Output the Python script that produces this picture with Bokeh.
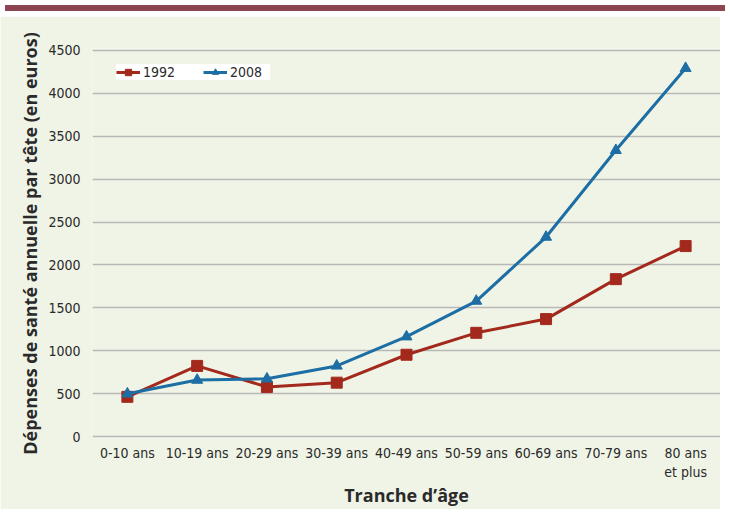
from bokeh.plotting import figure
from bokeh.models import Range1d, FixedTicker, Legend, LegendItem, Div
from bokeh.layouts import column
from bokeh.embed import file_html
from bokeh.resources import INLINE

# ---- data ----
ages = ["0-10 ans", "10-19 ans", "20-29 ans", "30-39 ans", "40-49 ans",
        "50-59 ans", "60-69 ans", "70-79 ans", "80 ans\net plus"]
y1992 = [465, 825, 580, 630, 955, 1210, 1370, 1835, 2220]
y2008 = [500, 660, 675, 825, 1165, 1580, 2325, 3335, 4290]
y_ticks = [0, 500, 1000, 1500, 2000, 2500, 3000, 3500, 4000, 4500]

# ---- styles ----
GREEN = "#eff4e6"
MAROON = "#8b4451"
RED = "#a3291d"
BLUE = "#1d6ea4"
TEXT = "#2a2a2a"
NARROW = "DejaVu Sans Condensed"
BOLD = "Open Sans"

bar = Div(text="", width=720, height=6, styles={"background-color": MAROON})

p = figure(x_range=ages, y_range=Range1d(-20, 4520),
           frame_width=628, frame_height=390,
           min_border_left=92, min_border_right=0, min_border_top=32, min_border_bottom=50,
           output_backend="svg", toolbar_location=None,
           background_fill_color=GREEN, border_fill_color=GREEN)
p.outline_line_color = None
p.xgrid.grid_line_color = None
p.ygrid.grid_line_color = "#b8b8b8"
p.ygrid.grid_line_width = 1.6
p.yaxis.ticker = FixedTicker(ticks=y_ticks)

for ax in (p.xaxis[0], p.yaxis[0]):
    ax.axis_line_color = None
    ax.major_tick_line_color = None
    ax.minor_tick_line_color = None
    ax.major_label_text_font = NARROW
    ax.major_label_text_font_size = "14px"
    ax.major_label_text_color = TEXT
    ax.axis_label_text_font = BOLD
    ax.axis_label_text_font_style = "bold"
    ax.axis_label_text_color = TEXT

p.yaxis.major_label_standoff = 6
p.yaxis.axis_label = "Dépenses de santé annuelle par tête (en euros)"
p.yaxis.axis_label_text_font_size = "18px"
p.yaxis.axis_label_standoff = 3

p.xaxis.major_label_standoff = 0
p.xaxis.axis_label = "Tranche d’âge"
p.xaxis.axis_label_text_font_size = "18px"
p.xaxis.axis_label_standoff = 0

l1 = p.line(ages, y1992, line_width=3, color=RED)
m1 = p.scatter(ages, y1992, marker="square", size=11, color=RED)
l2 = p.line(ages, y2008, line_width=3, color=BLUE)
m2 = p.scatter(ages, y2008, marker="triangle", size=11, color=BLUE)

legend = Legend(items=[LegendItem(label="1992", renderers=[l1, m1]),
                       LegendItem(label="2008", renderers=[l2, m2])],
                location=(24, 358), orientation="horizontal",
                background_fill_color="white", background_fill_alpha=1,
                border_line_color=None, padding=8, spacing=20, margin=0,
                glyph_width=24, glyph_height=16, label_height=16,
                label_standoff=3, label_width=40,
                label_text_font=NARROW, label_text_font_size="14px",
                label_text_color=TEXT)
p.add_layout(legend)

layout = column(bar, p)
open("out.html", "w").write(file_html(layout, INLINE))
